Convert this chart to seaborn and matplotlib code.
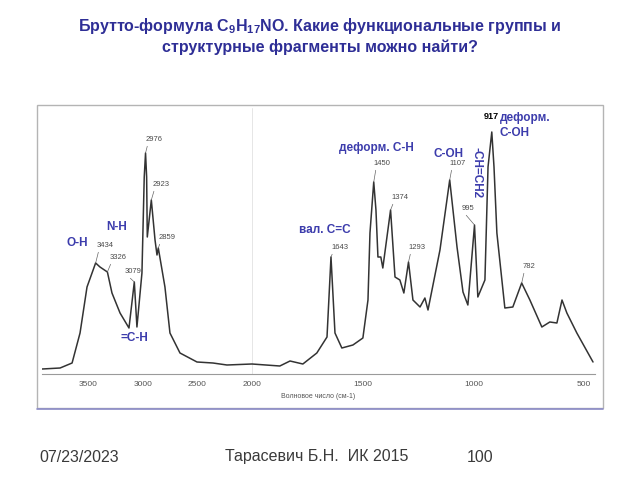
import numpy as np
import pandas as pd
import matplotlib
matplotlib.use("Agg")
import matplotlib.pyplot as plt
from matplotlib.patches import Rectangle
from matplotlib.lines import Line2D
from matplotlib.scale import FuncScale
from matplotlib.ticker import FixedLocator
import seaborn as sns

# ---------------- data ----------------
wavenumber = [3925, 3760, 3650, 3577, 3513, 3434, 3394, 3326, 3284, 3210,
              3128, 3079, 3055, 3009, 2988, 2976, 2966, 2960, 2923, 2889,
              2871, 2859, 2798, 2752, 2660, 2504, 2358, 2229, 2000, 1874,
              1828, 1770, 1707, 1661, 1643, 1625, 1594, 1544, 1499, 1476,
              1467, 1450, 1440, 1431, 1418, 1409, 1374, 1354, 1332, 1314,
              1293, 1273, 1241, 1219, 1205, 1151, 1107, 1074, 1047, 1025,
              995, 980, 948, 934, 917, 907, 894, 858, 822, 782,
              745, 691, 655, 623, 600, 578, 533, 460]
absorbance = [5, 6, 11, 41, 87, 111, 107, 102, 81, 61,
              46, 92, 47, 101, 197, 221, 197, 137, 174, 134,
              119, 126, 87, 41, 21, 12, 11, 9, 10, 8,
              13, 10, 21, 37, 117, 41, 26, 29, 36, 74,
              141, 192, 164, 117, 117, 106, 164, 97, 94, 81,
              112, 74, 67, 76, 64, 124, 194, 127, 82, 69,
              149, 77, 94, 207, 242, 207, 141, 66, 67, 91,
              74, 47, 52, 51, 74, 61, 41, 12]

peak_wn = [3434, 3326, 3079, 2976, 2923, 2859, 1643, 1450, 1374, 1293, 1107, 995, 917, 782]
peak_text = ["3434", "3326", "3079", "2976", "2923", "2859", "1643", "1450",
             "1374", "1293", "1107", "995", "917", "782"]
x_ticks = [3500, 3000, 2500, 2000, 1500, 1000, 500]

title_line1 = "Брутто-формула C$_{9}$H$_{17}$NO. Какие функциональные группы и"
title_line2 = "структурные фрагменты можно найти?"
x_label = "Волновое число (см-1)"
footer_date = "07/23/2023"
footer_author = "Тарасевич Б.Н.  ИК 2015"
footer_page = "100"

df = pd.DataFrame({"wn": wavenumber, "A": absorbance})

# ---------------- style ----------------
sns.set_style("white")
plt.rcParams["font.family"] = ["Liberation Sans", "DejaVu Sans"]
plt.rcParams["mathtext.fontset"] = "custom"
plt.rcParams["mathtext.rm"] = "Liberation Sans:bold"
plt.rcParams["mathtext.bf"] = "Liberation Sans:bold"
plt.rcParams["mathtext.default"] = "bf"

W, H = 640, 480
fig = plt.figure(figsize=(6.4, 4.8), dpi=100)

def fx(px):
    return px / W

def fy(py):
    return 1 - py / H

# frame of the embedded spectrum picture
fig.patches.append(Rectangle((fx(37), fy(408)), fx(603) - fx(37), fy(105) - fy(408),
                             transform=fig.transFigure, fill=False,
                             edgecolor="#b4b4b4", lw=1.0, zorder=0))
fig.lines.append(Line2D([fx(37), fx(603)], [fy(409), fy(409)],
                        transform=fig.transFigure, color="#8c8cc8", lw=1.2))

ax = fig.add_axes([fx(42), fy(374), fx(595) - fx(42), fy(108) - fy(374)])
ax.patch.set_alpha(0)

RATIO = 0.4921

def fwd(w):
    w = np.asarray(w, dtype=float)
    return np.where(w >= 2000, 2000 + (w - 2000) * RATIO, w)

def inv(t):
    t = np.asarray(t, dtype=float)
    return np.where(t >= 2000, 2000 + (t - 2000) / RATIO, t)

ax.set_xscale(FuncScale(ax, (fwd, inv)))

ax.axvline(2000, color="#e6e6e6", lw=0.7, zorder=0)
sns.lineplot(data=df, x="wn", y="A", ax=ax, color="#333333", lw=1.1,
             estimator=None, sort=True)

ax.set_xlim(3926, 451)
ax.set_ylim(0, 266)
ax.set_yticks([])
ax.set_ylabel("")
for s in ["left", "right", "top"]:
    ax.spines[s].set_visible(False)
ax.spines["bottom"].set_color("#9a9a9a")
ax.spines["bottom"].set_linewidth(0.8)

ax.xaxis.set_major_locator(FixedLocator(x_ticks))
ax.set_xticklabels([str(t) for t in x_ticks])
ax.xaxis.set_minor_locator(FixedLocator(list(range(500, 3901, 100))))
ax.tick_params(axis="x", which="major", direction="inout", length=4, width=0.8,
               color="#777777", labelsize=6, labelcolor="#555555", pad=3)
ax.tick_params(axis="x", which="minor", direction="inout", length=3, width=0.6,
               color="#999999")
ax.set_xlabel(x_label, fontsize=5, color="#555555", labelpad=4)

# peak labels: (dx, dy) pixel offset of the text's lower-left corner from the peak
offsets = {"3434": (1, 14), "3326": (2, 11), "3079": (-10, 7), "2976": (0, 10),
           "2923": (1, 12), "2859": (0, 7), "1643": (0, 6), "1450": (0, 15),
           "1374": (1, 9), "1293": (0, 11), "1107": (0, 13), "995": (-13, 13),
           "917": (-8, 11), "782": (1, 13)}
for wn, txt in zip(peak_wn, peak_text):
    yv = absorbance[wavenumber.index(wn)]
    dx, dy = offsets[txt]
    if txt == "917":
        ax.annotate(txt, xy=(wn, yv), xytext=(dx, dy), textcoords="offset pixels",
                    ha="left", va="bottom", fontsize=6.5, color="black",
                    fontweight="bold", annotation_clip=False)
        continue
    ax.annotate(txt, xy=(wn, yv), xytext=(dx, dy), textcoords="offset pixels",
                ha="left", va="bottom", fontsize=5.5, color="#4a4a4a",
                arrowprops=dict(arrowstyle="-", color="#666666", lw=0.5,
                                shrinkA=0, shrinkB=0, relpos=(0.15, 0.0)),
                annotation_clip=False)

# group labels (blue)
blue = "#3c3cac"
gkw = dict(fontsize=8.5, color=blue, fontweight="bold", ha="center", va="center")
fig.text(fx(77), fy(243), "O-H", **gkw)
fig.text(fx(117), fy(227), "N-H", **gkw)
fig.text(fx(134), fy(338), "=C-H", **gkw)
fig.text(fx(325), fy(230), "вал. C=C", **gkw)
fig.text(fx(376), fy(148), "деформ. C-H", **gkw)
fig.text(fx(448), fy(154), "C-OH", **gkw)
fig.text(fx(477), fy(173), "-CH=CH2", rotation=-90, **gkw)
fig.text(fx(525), fy(118), "деформ.", **gkw)
fig.text(fx(515), fy(133), "C-OH", **gkw)

# title
tkw = dict(fontsize=11.5, color="#2e2e96", fontweight="bold", ha="center", va="center")
fig.text(0.5, fy(26), title_line1, **tkw)
fig.text(0.5, fy(47), title_line2, **tkw)

# footer
fkw = dict(fontsize=11.5, color="#3a3a3a", va="center")
fig.text(fx(39), fy(457), footer_date, ha="left", **fkw)
fig.text(fx(225), fy(457), footer_author, ha="left", **fkw)
fig.text(fx(467), fy(457), footer_page, ha="left", **fkw)

fig.savefig("out.png", dpi=100)
